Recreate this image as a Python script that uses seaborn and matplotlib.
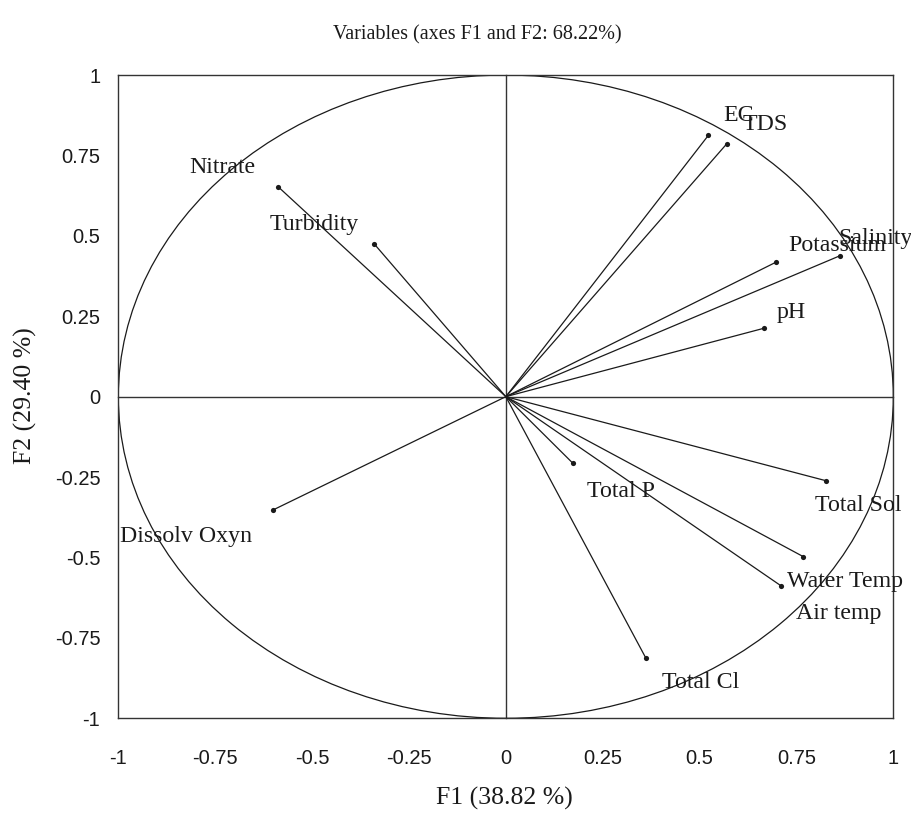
import numpy as np
import pandas as pd
import matplotlib
matplotlib.use("Agg")
import matplotlib.pyplot as plt
from matplotlib.patches import Ellipse
import seaborn as sns

# Correlations of each variable with the first two factors
variables = ["Nitrate", "Turbidity", "EC", "TDS", "Potassium", "Salinity", "pH",
             "Dissolv Oxyn", "Total P", "Total Sol", "Water Temp", "Air temp", "Total Cl"]
f1 = [-0.587, -0.339, 0.523, 0.570, 0.697, 0.862, 0.667,
      -0.602, 0.173, 0.825, 0.767, 0.710, 0.361]
f2 = [0.652, 0.474, 0.813, 0.786, 0.418, 0.438, 0.213,
      -0.353, -0.207, -0.261, -0.497, -0.588, -0.812]

tick_values = [-1, -0.75, -0.5, -0.25, 0, 0.25, 0.5, 0.75, 1]
tick_labels = ["-1", "-0.75", "-0.5", "-0.25", "0", "0.25", "0.5", "0.75", "1"]

title = "Variables (axes F1 and F2: 68.22%)"
xlabel = "F1 (38.82 %)"
ylabel = "F2 (29.40 %)"

# Where each variable name is written (left edge, baseline), in factor units
label_anchor = [(-0.817, 0.694), (-0.609, 0.518), (0.560, 0.857), (0.611, 0.829),
                (0.730, 0.454), (0.858, 0.475), (0.700, 0.244), (-0.997, -0.451),
                (0.210, -0.311), (0.798, -0.357), (0.725, -0.591), (0.749, -0.692),
                (0.404, -0.905)]

df = pd.DataFrame({"variable": variables, "F1": f1, "F2": f2})

sns.set_style("white")
plt.rcParams["font.family"] = ["Liberation Serif", "DejaVu Serif"]

ink = "#1a1a1a"
frame = "#333333"
tick_family = ["Liberation Sans Narrow", "Liberation Sans"]

fig = plt.figure(figsize=(9.11, 8.13), dpi=100)
rect = [0.1299, 0.1165, 0.8507, 0.7912]

# Central axes through the origin, with crossing ticks (drawn underneath)
cx = fig.add_axes(rect)
cx.set_xlim(-1, 1)
cx.set_ylim(-1, 1)
for side in ["top", "right"]:
    cx.spines[side].set_visible(False)
cx.spines["left"].set_position(("data", 0))
cx.spines["bottom"].set_position(("data", 0))
for side in ["left", "bottom"]:
    cx.spines[side].set_color(frame)
    cx.spines[side].set_linewidth(1.0)
inner = [t for t in tick_values if t not in (-1, 0, 1)]
cx.set_xticks(inner)
cx.set_yticks(inner)
cx.tick_params(direction="inout", length=14, width=1.0, color=frame,
               labelbottom=False, labelleft=False)

# Main axes: frame, tick labels and the variable vectors
ax = fig.add_axes(rect)
ax.patch.set_alpha(0)

# Correlation circle
ax.add_patch(Ellipse((0, 0), 2, 2, fill=False, lw=0.9, color=ink, zorder=1))

# Vectors from the origin to each variable
for x, y in zip(df["F1"], df["F2"]):
    ax.plot([0, x], [0, y], color=ink, lw=0.9, zorder=2)
sns.scatterplot(data=df, x="F1", y="F2", ax=ax, color=ink, s=14,
                edgecolor=ink, linewidth=0, zorder=3, legend=False)

for name, (lx, ly) in zip(variables, label_anchor):
    ax.text(lx, ly, name, ha="left", va="baseline", fontsize=17.2, color=ink,
            zorder=4, clip_on=False)

ax.set_xlim(-1, 1)
ax.set_ylim(-1, 1)
ax.set_xticks(tick_values)
ax.set_yticks(tick_values)
ax.set_xticklabels(tick_labels, family=tick_family, fontsize=14.5)
ax.set_yticklabels(tick_labels, family=tick_family, fontsize=14.5)
ax.tick_params(axis="x", length=0, pad=22, colors=ink)
ax.tick_params(axis="y", length=0, pad=13, colors=ink)
ax.set_xlabel("")
ax.set_ylabel("")
for s in ax.spines.values():
    s.set_visible(True)
    s.set_color(frame)
    s.set_linewidth(1.0)

fig.text(477 / 911, 1 - 35 / 813, title, ha="center", va="center", fontsize=14.5, color=ink)
fig.text(504 / 911, 1 - 798 / 813, xlabel, ha="center", va="center", fontsize=18.5, color=ink)
fig.text(25 / 911, 1 - 396 / 813, ylabel, ha="center", va="center", rotation=90,
         fontsize=18.5, color=ink)

fig.savefig("out.png", dpi=100, facecolor="white")
